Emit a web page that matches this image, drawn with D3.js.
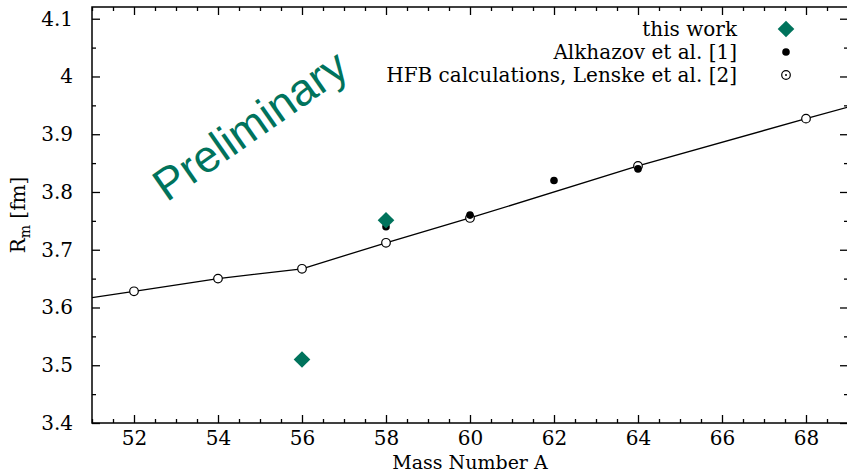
<!DOCTYPE html>
<html><head><meta charset="utf-8">
<script src="https://cdn.jsdelivr.net/npm/d3@7"></script>
<style>body{margin:0;background:#fff}svg{display:block}</style>
</head><body>
<svg id="c" width="847" height="473"></svg>
<script>
const hfbA = [52, 54, 56, 58, 60, 64, 68];
const hfbR = [3.628, 3.650, 3.667, 3.712, 3.755, 3.845, 3.927];
const lineA = [51, 52, 54, 56, 58, 60, 64, 68, 69];
const lineR = [3.617, 3.628, 3.650, 3.667, 3.712, 3.755, 3.845, 3.927, 3.947];
const alkA = [58, 60, 62, 64];
const alkR = [3.740, 3.760, 3.820, 3.840];
const workA = [56, 58];
const workR = [3.510, 3.751];
const xTicks = [52, 54, 56, 58, 60, 62, 64, 66, 68];
const yTicks = [3.4, 3.5, 3.6, 3.7, 3.8, 3.9, 4.0, 4.1];
const legendLabels = ["this work", "Alkhazov et al. [1]", "HFB calculations, Lenske et al. [2]"];

const green = "#00735c";
const serif = "'DejaVu Serif', serif";
const fs = 20;
const svg = d3.select("#c");
const L = 92, R = 848, T = 7, B = 423;
const x = d3.scaleLinear().domain([51, 69]).range([L, R]);
const y = d3.scaleLinear().domain([3.4, 4.1203]).range([B, T]);

svg.append("defs").append("clipPath").attr("id", "clip")
  .append("rect").attr("x", L).attr("y", T).attr("width", R - L).attr("height", B - T);

// Preliminary watermark
svg.append("text").attr("x", 0).attr("y", 0)
  .attr("transform", "translate(259,138) rotate(-35)")
  .attr("text-anchor", "middle")
  .attr("font-family", "'Liberation Sans', Arial, sans-serif")
  .attr("font-size", 45).attr("fill", green).text("Preliminary");

// axes
const fmtY = d => d3.format("")(+d.toFixed(1));
const minorX = d3.range(51, 69.01, 0.5).filter(v => Math.abs(v / 2 - Math.round(v / 2)) > 1e-6);
const minorY = d3.range(3.45, 4.12, 0.1);

function axisStyle(g) {
  g.select(".domain").remove();
  g.selectAll("line").attr("stroke", "#000").attr("stroke-width", 1.3);
  g.selectAll("text").attr("font-family", serif).attr("font-size", fs).attr("fill", "#000");
}
// bottom
svg.append("g").attr("transform", `translate(0,${B})`)
  .call(d3.axisBottom(x).tickValues(xTicks).tickFormat(d3.format("d")).tickSizeInner(-8).tickSizeOuter(0).tickPadding(8))
  .call(axisStyle);
svg.append("g").attr("transform", `translate(0,${B})`)
  .call(d3.axisBottom(x).tickValues(minorX).tickFormat("").tickSizeInner(-4).tickSizeOuter(0))
  .call(axisStyle);
// top
svg.append("g").attr("transform", `translate(0,${T})`)
  .call(d3.axisTop(x).tickValues(xTicks).tickFormat("").tickSizeInner(-8).tickSizeOuter(0))
  .call(axisStyle);
svg.append("g").attr("transform", `translate(0,${T})`)
  .call(d3.axisTop(x).tickValues(minorX).tickFormat("").tickSizeInner(-4).tickSizeOuter(0))
  .call(axisStyle);
// left
svg.append("g").attr("transform", `translate(${L},0)`)
  .call(d3.axisLeft(y).tickValues(yTicks).tickFormat(fmtY).tickSizeInner(-8).tickSizeOuter(0).tickPadding(19))
  .call(axisStyle);
svg.append("g").attr("transform", `translate(${L},0)`)
  .call(d3.axisLeft(y).tickValues(minorY).tickFormat("").tickSizeInner(-4).tickSizeOuter(0))
  .call(axisStyle);
// right
svg.append("g").attr("transform", `translate(${R},0)`)
  .call(d3.axisRight(y).tickValues(yTicks).tickFormat("").tickSizeInner(-8).tickSizeOuter(0))
  .call(axisStyle);
svg.append("g").attr("transform", `translate(${R},0)`)
  .call(d3.axisRight(y).tickValues(minorY).tickFormat("").tickSizeInner(-4).tickSizeOuter(0))
  .call(axisStyle);

// frame
svg.append("rect").attr("x", L).attr("y", T).attr("width", R - L).attr("height", B - T)
  .attr("fill", "none").attr("stroke", "#000").attr("stroke-width", 1.5);

// axis titles
svg.append("text").attr("x", 470).attr("y", 468.5).attr("text-anchor", "middle")
  .attr("font-family", serif).attr("font-size", 19).text("Mass Number A");
const yl = svg.append("text").attr("transform", "translate(25,215) rotate(-90)")
  .attr("text-anchor", "middle").attr("font-family", serif).attr("font-size", fs);
yl.append("tspan").text("R");
yl.append("tspan").attr("font-size", 14).attr("dy", 5).text("m");
yl.append("tspan").attr("dy", -5).text(" [fm]");

// HFB line
const pts = lineA.map((a, i) => [a, lineR[i]]);
svg.append("path").datum(pts).attr("clip-path", "url(#clip)")
  .attr("d", d3.line().x(d => x(d[0])).y(d => y(d[1])))
  .attr("fill", "none").attr("stroke", "#000").attr("stroke-width", 1.3);

// HFB circles
svg.append("g").selectAll("circle").data(hfbA).join("circle")
  .attr("cx", d => x(d)).attr("cy", (d, i) => y(hfbR[i])).attr("r", 4.3)
  .attr("fill", "#fff").attr("stroke", "#000").attr("stroke-width", 1.2);

// Alkhazov
svg.append("g").selectAll("circle").data(alkA).join("circle")
  .attr("cx", d => x(d)).attr("cy", (d, i) => y(alkR[i])).attr("r", 3.8)
  .attr("fill", "#000");

// this work
svg.append("g").selectAll("path").data(workA).join("path")
  .attr("transform", (d, i) => `translate(${x(d)},${y(workR[i])})`)
  .attr("d", "M0,-8.3L8.3,0L0,8.3L-8.3,0Z")
  .attr("fill", green);

// legend
const lg = svg.append("g");
const rowsY = [29, 52, 75];
lg.selectAll("text").data(legendLabels).join("text")
  .attr("x", 737).attr("y", (d, i) => rowsY[i]).attr("dy", "0.35em")
  .attr("text-anchor", "end").attr("font-family", serif).attr("font-size", fs)
  .text(d => d);
lg.append("path").attr("d", "M0,-8.3L8.3,0L0,8.3L-8.3,0Z")
  .attr("transform", `translate(786,${rowsY[0]})`).attr("fill", green);
lg.append("circle").attr("cx", 786).attr("cy", rowsY[1]).attr("r", 3.8).attr("fill", "#000");
lg.append("circle").attr("cx", 786).attr("cy", rowsY[2]).attr("r", 4.3)
  .attr("fill", "#fff").attr("stroke", "#000").attr("stroke-width", 1.2);
lg.append("circle").attr("cx", 786).attr("cy", rowsY[2]).attr("r", 1).attr("fill", "#000");
</script>
</body></html>
